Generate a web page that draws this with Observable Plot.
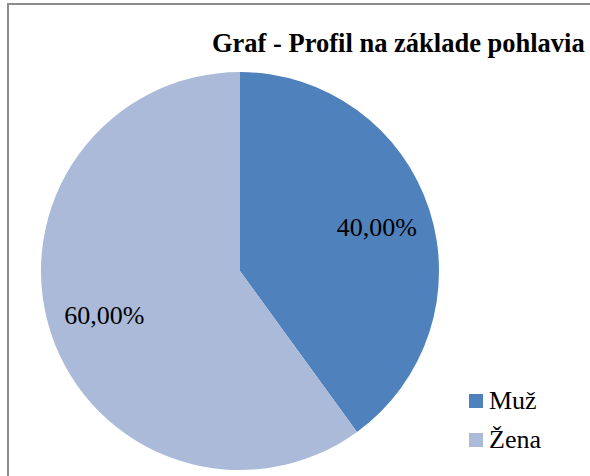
<!DOCTYPE html>
<html>
<head>
<meta charset="utf-8">
<script src="https://cdn.jsdelivr.net/npm/d3@7"></script>
<script src="https://cdn.jsdelivr.net/npm/@observablehq/plot@0.6"></script>
</head>
<body style="margin:0;padding:0;background:#fff">
<div id="wrap" style="position:relative;width:590px;height:476px;overflow:hidden;background:#fff">
  <div style="position:absolute;left:7px;top:3px;width:600px;height:500px;border-left:2px solid #8c8c8c;border-top:2px solid #8c8c8c;box-sizing:border-box"></div>
  <div id="chart" style="position:absolute;left:0;top:0"></div>
  <div id="title" style="position:absolute;left:212px;top:28px;font-family:'Liberation Serif';font-weight:bold;font-size:26.5px;line-height:30px;white-space:nowrap;color:#000">Graf - Profil na základe pohlavia</div>
  <div id="legend"></div>
</div>
<script>
const categories = ["Muž", "Žena"];
const values = [40, 60];
const labels = ["40,00%", "60,00%"];
const colors = ["#4F81BD", "#AABAD8"];

const data = categories.map((c, i) => ({category: c, value: values[i], label: labels[i], color: colors[i]}));
const arcs = d3.pie().sort(null).value(d => d.value)(data);
const labelFrac = 0.72;
const labelData = arcs.map(a => {
  const mid = (a.startAngle + a.endAngle) / 2;
  return {x: labelFrac * Math.sin(mid), y: labelFrac * Math.cos(mid), label: a.data.label};
});

function pieMark(index, scales, values, dimensions, context) {
  const cx = scales.x(0), cy = scales.y(0);
  const r = scales.x(1) - scales.x(0);
  const arcGen = d3.arc().innerRadius(0).outerRadius(r);
  const g = d3.create("svg:g").attr("transform", `translate(${cx},${cy})`);
  g.selectAll("path").data(arcs).join("path")
    .attr("d", arcGen)
    .attr("fill", d => d.data.color);
  return g.node();
}

const plot = Plot.plot({
  width: 590,
  height: 476,
  margin: 0,
  style: {background: "transparent", overflow: "visible"},
  x: {domain: [-1, 1], range: [41, 439], axis: null},
  y: {domain: [-1, 1], range: [470, 72], axis: null},
  marks: [
    pieMark,
    Plot.text(labelData, {
      x: "x", y: "y", text: "label",
      fontSize: 26, fill: "#000",
      fontFamily: "Liberation Serif"
    })
  ]
});
document.getElementById("chart").appendChild(plot);

const legend = document.getElementById("legend");
const legTops = [388, 427];
categories.forEach((c, i) => {
  const d = document.createElement("div");
  d.style.cssText = `position:absolute;left:469px;top:${legTops[i]}px;font-family:'Liberation Serif';font-size:26px;line-height:26px;color:#000;white-space:nowrap`;
  d.innerHTML = `<span style="display:inline-block;width:14px;height:14px;margin-right:6px;vertical-align:1px;background:${colors[i]}"></span>${c}`;
  legend.appendChild(d);
});
</script>
</body>
</html>
